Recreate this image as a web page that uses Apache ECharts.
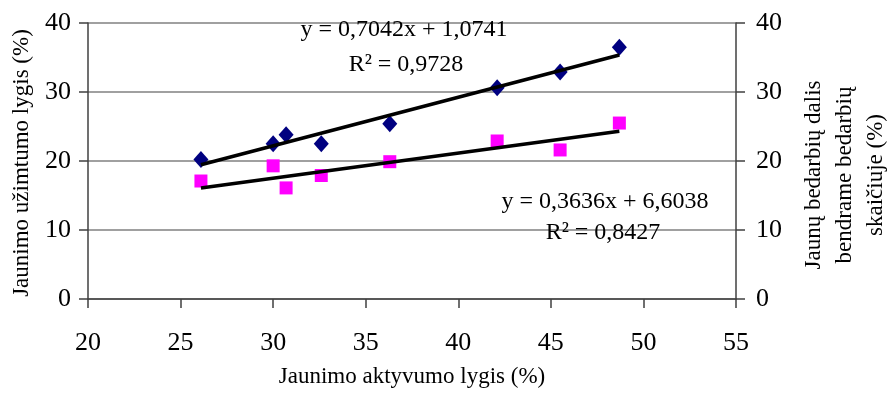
<!DOCTYPE html>
<html>
<head>
<meta charset="utf-8">
<script src="https://cdn.jsdelivr.net/npm/echarts@6/dist/echarts.min.js"></script>
<style>html,body{margin:0;padding:0;background:#fff}#c{width:888px;height:401px}</style>
</head>
<body>
<div id="c"></div>
<script>
// Data
var activity = [26.1, 30.0, 30.7, 32.6, 36.3, 42.1, 45.5, 48.7];
var employment = [20.2, 22.5, 23.8, 22.5, 25.4, 30.6, 32.9, 36.5];
var youthUnempShare = [17.1, 19.3, 16.1, 17.9, 19.9, 22.9, 21.6, 25.5];
var trendBlue = [0.7042, 1.0741]; // slope, intercept
var trendPink = [0.3636, 6.6038];
var xTicks = [20, 25, 30, 35, 40, 45, 50, 55];
var yTicks = [0, 10, 20, 30, 40];

function pairs(xs, ys){ return xs.map(function(x,i){ return [x, ys[i]]; }); }
function trend(xs, c){
  var lo = Math.min.apply(null, xs), hi = Math.max.apply(null, xs);
  return [[lo, c[0]*lo + c[1]], [hi, c[0]*hi + c[1]]];
}

var font = 'Liberation Serif';
var chart = echarts.init(document.getElementById('c'), null, {renderer:'canvas'});
var axisLine = {show:true, lineStyle:{color:'#404040', width:1.5}};
var tickFont = {fontFamily:font, fontSize:26, color:'#000'};
var yAxisBase = {
  type:'value', min:yTicks[0], max:yTicks[yTicks.length-1], interval:10,
  axisLine:axisLine,
  axisTick:{show:true, length:9, inside:false, lineStyle:{color:'#404040', width:1.5}},
  splitLine:{show:false}
};
chart.setOption({
  animation:false,
  backgroundColor:'#fff',
  grid:{left:88, right:152, top:23, bottom:102, containLabel:false},
  xAxis:{
    type:'value', min:xTicks[0], max:xTicks[xTicks.length-1], interval:5,
    axisLine:axisLine,
    axisTick:{show:true, length:9, lineStyle:{color:'#404040', width:1.5}},
    axisLabel:Object.assign({margin:31}, tickFont),
    splitLine:{show:false}
  },
  yAxis:[
    Object.assign({}, yAxisBase, {position:'left',
      axisLabel:Object.assign({margin:17}, tickFont),
      splitLine:{show:true, lineStyle:{color:'#808080', width:1.5}}}),
    Object.assign({}, yAxisBase, {position:'right',
      axisLabel:Object.assign({margin:20, align:'left'}, tickFont)})
  ],
  series:[
    {type:'scatter', yAxisIndex:0, data:pairs(activity, employment), symbol:'diamond',
     symbolSize:[15,17], itemStyle:{color:'#000080', opacity:1}, z:3},
    {type:'scatter', yAxisIndex:1, data:pairs(activity, youthUnempShare), symbol:'rect',
     symbolSize:13, itemStyle:{color:'#FF00FF', opacity:1}, z:3},
    {type:'line', yAxisIndex:0, data:trend(activity, trendBlue), showSymbol:false, symbol:'none',
     lineStyle:{color:'#000', width:3.5}, z:4, silent:true},
    {type:'line', yAxisIndex:1, data:trend(activity, trendPink), showSymbol:false, symbol:'none',
     lineStyle:{color:'#000', width:3.5}, z:4, silent:true}
  ],
  graphic:[
    {type:'text', x:404, y:30, style:{text:'y = 0,7042x + 1,0741', font:'24px "Liberation Serif"', fill:'#000', align:'center', verticalAlign:'middle'}, z:10},
    {type:'text', x:406, y:65, style:{text:'R² = 0,9728', font:'24px "Liberation Serif"', fill:'#000', align:'center', verticalAlign:'middle'}, z:10},
    {type:'text', x:605, y:202, style:{text:'y = 0,3636x + 6,6038', font:'24px "Liberation Serif"', fill:'#000', align:'center', verticalAlign:'middle'}, z:10},
    {type:'text', x:603, y:233, style:{text:'R² = 0,8427', font:'24px "Liberation Serif"', fill:'#000', align:'center', verticalAlign:'middle'}, z:10},
    {type:'text', x:412, y:377, style:{text:'Jaunimo aktyvumo lygis (%)', font:'23px "Liberation Serif"', fill:'#000', align:'center', verticalAlign:'middle'}},
    {type:'text', x:22, y:163, rotation:Math.PI/2, style:{text:'Jaunimo užimtumo lygis (%)', font:'23px "Liberation Serif"', fill:'#000', align:'center', verticalAlign:'middle'}},
    {type:'text', x:845, y:175, rotation:Math.PI/2, style:{text:'Jaunų bedarbių dalis\nbendrame bedarbių\nskaičiuje (%)', font:'23px "Liberation Serif"', lineHeight:31, fill:'#000', align:'center', verticalAlign:'middle'}}
  ]
});
</script>
</body>
</html>
